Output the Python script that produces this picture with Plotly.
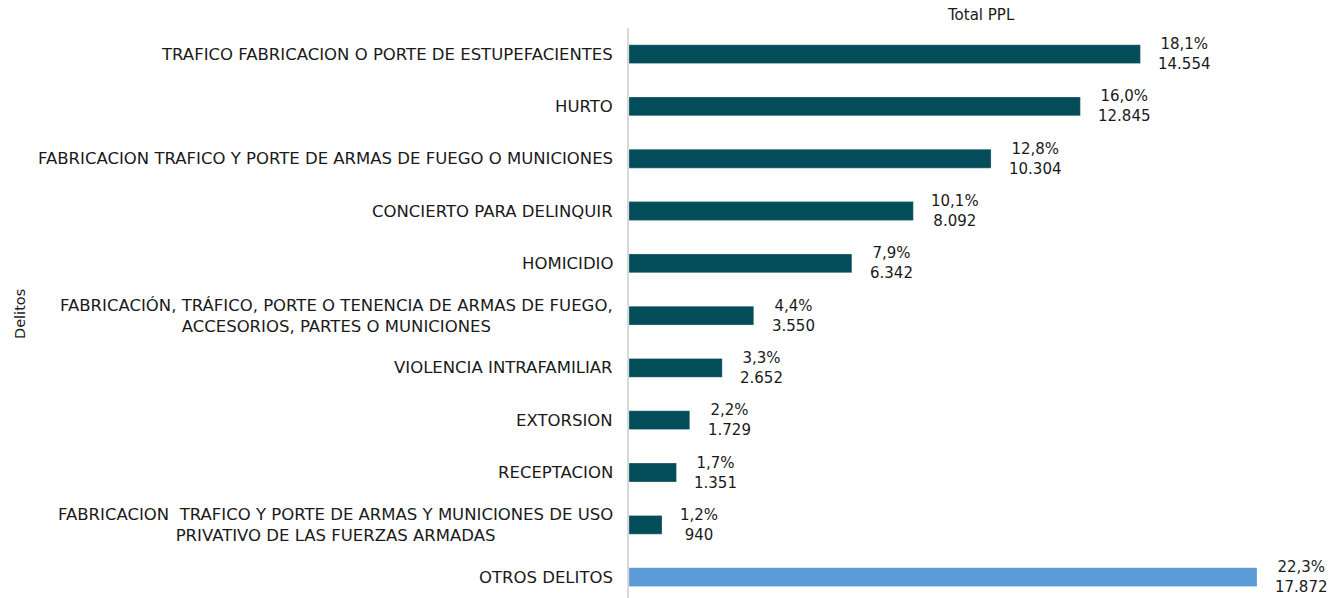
import plotly.graph_objects as go

categories = [
    "TRAFICO FABRICACION O PORTE DE ESTUPEFACIENTES",
    "HURTO",
    "FABRICACION TRAFICO Y PORTE DE ARMAS DE FUEGO O MUNICIONES",
    "CONCIERTO PARA DELINQUIR",
    "HOMICIDIO",
    "FABRICACIÓN, TRÁFICO, PORTE O TENENCIA DE ARMAS DE FUEGO,<br>ACCESORIOS, PARTES O MUNICIONES",
    "VIOLENCIA INTRAFAMILIAR",
    "EXTORSION",
    "RECEPTACION",
    "FABRICACION  TRAFICO Y PORTE DE ARMAS Y MUNICIONES DE USO<br>PRIVATIVO DE LAS FUERZAS ARMADAS",
    "OTROS DELITOS",
]
values = [14554, 12845, 10304, 8092, 6342, 3550, 2652, 1729, 1351, 940, 17872]
value_labels = ["14.554", "12.845", "10.304", "8.092", "6.342", "3.550", "2.652",
                "1.729", "1.351", "940", "17.872"]
pct_labels = ["18,1%", "16,0%", "12,8%", "10,1%", "7,9%", "4,4%", "3,3%",
              "2,2%", "1,7%", "1,2%", "22,3%"]

DARK = "#034d5a"
LIGHT = "#5b9bd5"
colors = [LIGHT if c == "OTROS DELITOS" else DARK for c in categories]
FONT = "DejaVu Sans, Verdana, sans-serif"

OFF = 8  # page body margin
W, H = 1336 - OFF, 598 - OFF
ML, MR, MT, MB = 629 - OFF, 40, 28 - OFF, 0
plot_w = W - ML - MR
plot_h = H - MT - MB
xmax = max(values) * plot_w / 628.0

ypos = list(range(len(categories)))

fig = go.Figure()
fig.add_trace(go.Bar(
    x=values, y=ypos, orientation="h",
    marker=dict(color=colors, line=dict(color="rgba(255,255,255,0.5)", width=0.5)),
    width=0.36, hoverinfo="skip",
))

annotations = []
for i, c in enumerate(categories):
    annotations.append(dict(
        x=0, y=i, xref="x", yref="y", text=c, showarrow=False,
        xanchor="right", yanchor="middle", align="center", xshift=-14,
        font=dict(family=FONT, size=16.5, color="#1a1a1a"),
    ))
    annotations.append(dict(
        x=values[i], y=i, xref="x", yref="y",
        text=pct_labels[i] + "<br>" + value_labels[i], showarrow=False,
        xanchor="left", yanchor="middle", align="center", xshift=16,
        font=dict(family=FONT, size=15, color="#1a1a1a"),
    ))

annotations.append(dict(
    x=(981 - OFF - ML) / plot_w, y=(H - MB - (15 - OFF)) / plot_h, xref="paper", yref="paper",
    xanchor="center", yanchor="middle",
    text="Total PPL", showarrow=False,
    font=dict(family=FONT, size=15, color="#1a1a1a"),
))
annotations.append(dict(
    x=(20 - OFF - ML) / plot_w, y=(H - MB - (314 - OFF)) / plot_h, xref="paper", yref="paper",
    textangle=-90, xanchor="center", yanchor="middle",
    text="Delitos", showarrow=False,
    font=dict(family=FONT, size=14.5, color="#1a1a1a"),
))

fig.update_layout(
    width=W, height=H,
    margin=dict(l=ML, r=MR, t=MT, b=MB, pad=0),
    paper_bgcolor="white", plot_bgcolor="white",
    showlegend=False,
    xaxis=dict(range=[0, xmax], showgrid=False, zeroline=False, showticklabels=False,
               ticks="", showline=False, fixedrange=True),
    yaxis=dict(range=[10.4, -0.5], showgrid=False, zeroline=False, showticklabels=False,
               ticks="", showline=True, linecolor="#d9d9d9", linewidth=2, mirror=False,
               fixedrange=True),
    annotations=annotations,
)

fig.write_html("out.html")
